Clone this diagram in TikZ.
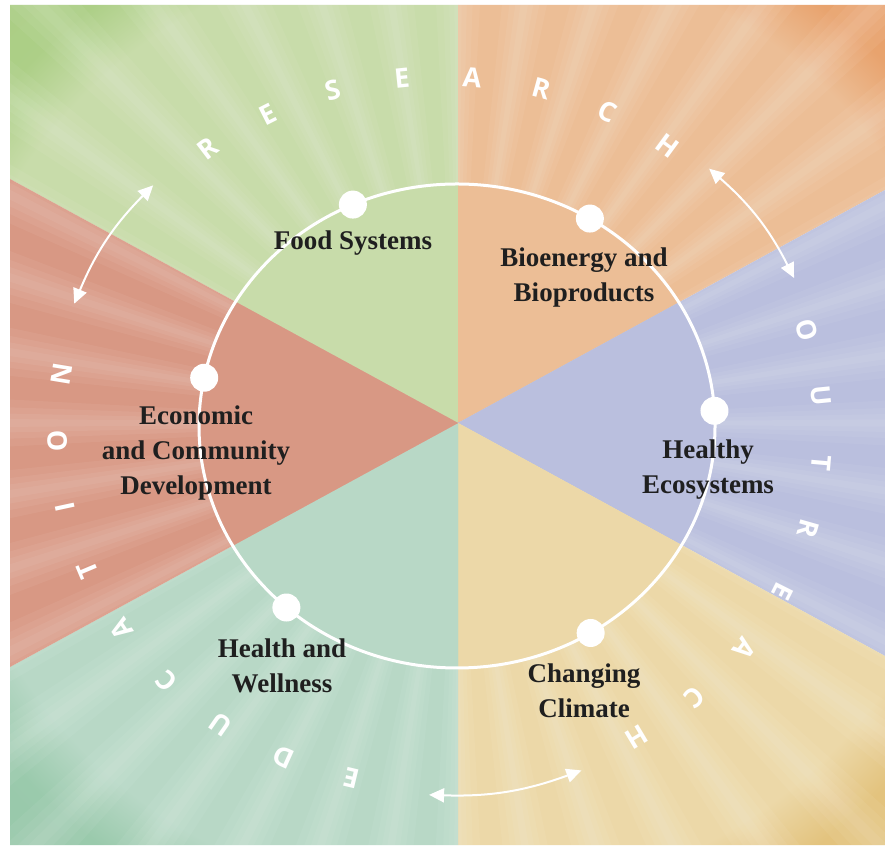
\documentclass[tikz,border=0pt]{standalone}
\usepackage{fontspec}
\setmainfont{Liberation Serif}
\newfontfamily\ringfont{Open Sans}
\usepackage{tikz}
\usetikzlibrary{calc,arrows.meta}
\definecolor{FoodIn}{RGB}{200,220,170}
\definecolor{FoodOut}{RGB}{158,200,116}
\definecolor{BioIn}{RGB}{236,190,150}
\definecolor{BioOut}{RGB}{230,148,88}
\definecolor{EcoIn}{RGB}{186,191,222}
\definecolor{EcoOut}{RGB}{140,150,205}
\definecolor{ClimIn}{RGB}{236,216,168}
\definecolor{ClimOut}{RGB}{222,184,104}
\definecolor{HealthIn}{RGB}{184,216,198}
\definecolor{HealthOut}{RGB}{138,194,158}
\definecolor{CommIn}{RGB}{216,152,132}
\definecolor{CommOut}{RGB}{200,98,74}
\colorlet{sunin}{white}
\colorlet{sunout}{white}
\pgfdeclareradialshading[sunin,sunout]{sunburst}{\pgfpoint{0bp}{0bp}}{color(0bp)=(sunin); color(12bp)=(sunin); color(13.5bp)=(sunout!65!sunin); color(24bp)=(sunout); color(50bp)=(sunout)}

\begin{document}
\begin{tikzpicture}[x=1pt, y=1pt, >={Triangle[length=15pt,width=14pt]},
	   topic/.style={font=\bfseries\fontsize{27}{35}\selectfont, align=center, text=black!88},
	   ringletter/.style={font=\ringfont\bfseries\fontsize{27}{27}\selectfont, text=white, inner sep=0pt},
	   dot/.style={circle, fill=white, minimum size=28pt, inner sep=0pt},
	   cycle arrow/.style={<->, white, line width=2pt}]
	%% Frame
	\useasboundingbox (0,0) rectangle (885,845);
	\fill[white] (0,0) rectangle (885,845);

	%% Reference points
	\coordinate (C) at (458,422);
	\coordinate (O) at (457,419);
	\coordinate (L) at (440,413);
	\coordinate (T) at (458,840);  \coordinate (B) at (458,0);
	\coordinate (TL) at (10,840);  \coordinate (TR) at (885,840);
	\coordinate (BL) at (10,0);    \coordinate (BR) at (885,0);
	\coordinate (UL) at (10,666);  \coordinate (LL) at (10,178);
	\coordinate (UR) at (885,655); \coordinate (LR) at (885,189);
	\coordinate (ML) at (10,422);  \coordinate (MR) at (885,422);

	%% Sectors
	\foreach \p/\q/\r/\cin/\cout in {T/TL/UL/FoodIn/FoodOut, T/TR/UR/BioIn/BioOut,
	         UR/MR/LR/EcoIn/EcoOut, LR/BR/B/ClimIn/ClimOut,
	         B/BL/LL/HealthIn/HealthOut, LL/ML/UL/CommIn/CommOut} {
	  \colorlet{sunin}{\cin}\colorlet{sunout}{\cout}
	  \begin{scope}
	    \clip (C) -- (\p) -- (\q) -- (\r) -- cycle;
	    \shade[shading=sunburst] (C) ellipse (1066pt and 1000pt);
	    \foreach \a in {0,9,...,359} {
	      \foreach \w in {3,2,1.2,.5}
	        \fill[white, opacity=.055] (C) -- ($(C)+(\a-\w:1300pt)$) -- ($(C)+(\a+\w:1300pt)$) -- cycle;
	    }
	    \fill[\cin] (O) ellipse (258pt and 242pt);
	  \end{scope}
	}

	%% Ring and dots
	\draw[white, line width=3pt] (O) ellipse (258pt and 242pt);
	\foreach \t/\n in {113.8/Food, 59/Bio, 168.5/Comm, 3.6/Eco, 228.6/Health, 301.2/Clim}
	  \node[dot] (dot\n) at ($(O)+(\t:258pt and 242pt)$) {};

	%% Topics
	\node[topic] (food) at (353,602) {Food Systems};
	\node[topic] (bio) at (584,567) {Bioenergy and\\Bioproducts};
	\node[topic] (comm) at (196,392) {Economic\\and Community\\Development};
	\node[topic] (eco) at (708,375) {Healthy\\Ecosystems};
	\node[topic] (health) at (282,179) {Health and\\Wellness};
	\node[topic] (clim) at (584,154) {Changing\\Climate};

	%% Lettering round the ring
	\foreach \l [count=\i] in {R,E,S,E,A,R,C,H} {
	  \pgfmathsetmacro\a{127.3-10.53*(\i-1)}
	  \node[ringletter, rotate=\a-90] (res\i) at ($(L)+(\a:383pt and 356pt)$) {\l};
	}
	\foreach \l [count=\i] in {O,U,T,R,E,A,C,H} {
	  \pgfmathsetmacro\a{16.6-10.81*(\i-1)}
	  \node[ringletter, rotate=\a-90] (out\i) at ($(L)+(\a:383pt and 356pt)$) {\l};
	}
	\foreach \l [count=\i] in {E,D,U,C,A,T,I,O,N} {
	  \pgfmathsetmacro\a{256.6-10.74*(\i-1)}
	  \node[ringletter, rotate=\a-90] (edu\i) at ($(L)+(\a:383pt and 356pt)$) {\l};
	}

	%% Arrows between the words
	\coordinate (eduEnd) at ($(L)+(137.2:391pt and 363pt)$);
	\coordinate (resStart) at ($(L)+(159.3:391pt and 363pt)$);
	\coordinate (outStart) at ($(L)+(25.1:391pt and 363pt)$);
	\coordinate (resEnd) at ($(L)+(46.5:391pt and 363pt)$);
	\coordinate (eduStart) at ($(L)+(268.4:391pt and 363pt)$);
	\coordinate (outEnd) at ($(L)+(291.2:391pt and 363pt)$);
	\draw[cycle arrow] (eduEnd) to[bend right=11] (resStart);
	\draw[cycle arrow] (outStart) to[bend right=11] (resEnd);
	\draw[cycle arrow] (eduStart) to[bend right=11] (outEnd);
\end{tikzpicture}
\end{document}
